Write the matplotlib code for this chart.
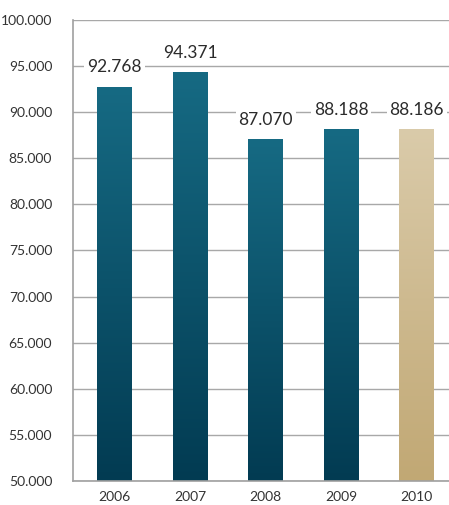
import matplotlib.pyplot as plt
import numpy as np
from matplotlib.colors import LinearSegmentedColormap

years = ["2006", "2007", "2008", "2009", "2010"]
values = [92768, 94371, 87070, 88188, 88186]
yticks = list(range(50000, 100001, 5000))


def fmt(v):
    return f"{v:,}".replace(",", ".")


plt.rcParams["font.family"] = ["Lato", "DejaVu Sans"]

fig = plt.figure(figsize=(4.49, 5.05), dpi=100)
ax = fig.add_axes([73 / 449, 24 / 505, 376 / 449, 461 / 505])

blue = LinearSegmentedColormap.from_list("blue", ["#023b52", "#166a83"])
sand = LinearSegmentedColormap.from_list("sand", ["#c1a874", "#dacbaa"])

x = np.arange(len(years))
bars = ax.bar(x, values, width=0.46, bottom=0, color="none", zorder=2)

# vertical gradient inside each bar
grad = np.linspace(0, 1, 256).reshape(-1, 1)
for i, b in enumerate(bars):
    cmap = sand if years[i] == "2010" else blue
    x0 = b.get_x()
    im = ax.imshow(grad, extent=[x0, x0 + b.get_width(), 50000, values[i]],
                   origin="lower", aspect="auto", cmap=cmap, zorder=2)
    im.set_clip_path(b)

for i, v in enumerate(values):
    ax.text(x[i], v + 2100, fmt(v), ha="center", va="center", fontsize=12.5,
            color="#2b2b2b", zorder=3,
            bbox=dict(facecolor="white", edgecolor="none", pad=2))

ax.set_xlim(-0.55, 4.43)
ax.set_ylim(50000, 100000)
ax.set_yticks(yticks)
ax.set_yticklabels([fmt(t) for t in yticks])
ax.set_xticks(x)
ax.set_xticklabels(years)
ax.tick_params(length=0, labelsize=10, colors="#333333")
ax.tick_params(axis="y", pad=15)
ax.tick_params(axis="x", pad=7)
ax.grid(axis="y", color="#a8a8a8", linewidth=1, zorder=0)
ax.set_axisbelow(True)
for s in ["top", "right"]:
    ax.spines[s].set_visible(False)
for s in ["left", "bottom"]:
    ax.spines[s].set_color("#a0a0a0")
    ax.spines[s].set_linewidth(1.2)

fig.savefig("out.png", dpi=100)
